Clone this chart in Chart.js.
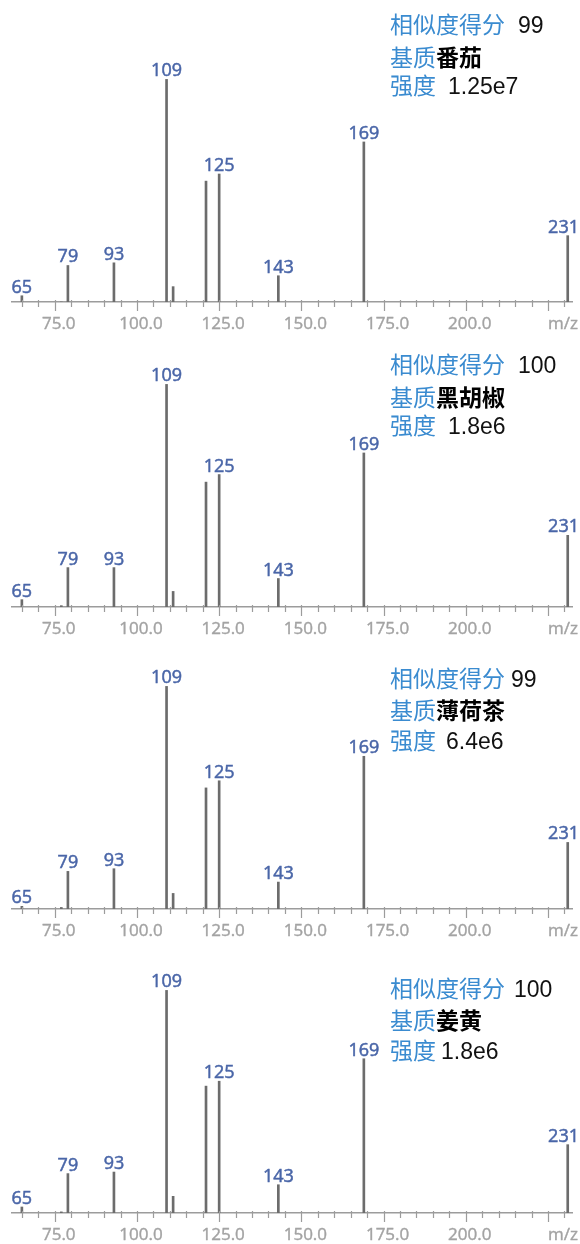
<!DOCTYPE html>
<html>
<head>
<meta charset="utf-8">
<script src="https://cdn.jsdelivr.net/npm/chart.js@4.4.1/dist/chart.umd.min.js"></script>
<style>
  html, body { margin: 0; padding: 0; background: #fff; }
  body { position: relative; width: 580px; height: 1244px; overflow: hidden; }
  canvas { position: absolute; left: 0; }
  .note {
    position: absolute; left: 390px; white-space: nowrap;
    font-family: "Noto Sans CJK SC", sans-serif; font-size: 23px; line-height: 30px;
    color: #3a8bd0;
  }
  .note .v { font-family: "Liberation Sans", Arial, sans-serif; color: #111; }
  .note .m { font-weight: bold; color: #000; }
</style>
</head>
<body>
<script>
// m/z of each fragment peak (shared by all four spectra)
const mzValues = [65, 77, 79, 93, 109, 111, 121, 125, 143, 169, 231];
// peaks that carry an m/z label
const labeledMz = [65, 79, 93, 109, 125, 143, 169, 231];
// labelled positions on the m/z axis
const xTickLabels = [75, 100, 125, 150, 175, 200];

// relative intensity (%) per matrix, same order as mzValues
const tomatoIntensity   = [2.8, 0,   16.4, 17.6, 100, 6.9, 54.3, 57.5, 11.8, 71.9, 29.8];
const pepperIntensity   = [3.3, 0.6, 17.7, 17.7, 100, 7.0, 56.1, 59.5, 12.8, 69.2, 32.2];
const mintTeaIntensity  = [1.2, 0.7, 16.9, 18.1, 100, 7.0, 54.4, 57.6, 12.1, 68.6, 29.9];
const turmericIntensity = [2.7, 0.5, 17.7, 18.4, 100, 7.5, 57.0, 59.2, 12.7, 69.3, 30.7];

// annotation text
const scoreTitle = '相似度得分';
const matrixTitle = '基质';
const intensityTitle = '强度';
const scores = ['99', '100', '99', '100'];
const matrices = ['番茄', '黑胡椒', '薄荷茶', '姜黄'];
const totalIntensities = ['1.25e7', '1.8e6', '6.4e6', '1.8e6'];
const axisTitle = 'm/z';

// ---- layout ----
const spectra = [tomatoIntensity, pepperIntensity, mintTeaIntensity, turmericIntensity];
const baselineY = [302.3, 606.7, 909.3, 1213.3];        // page y of each x axis
const CANVAS_H = 300, AXIS_H = 30, PLOT_H = CANVAS_H - AXIS_H;
const noteCenters = [[24, 56.7, 85], [364, 396.7, 425], [678, 710, 740], [988.3, 1020, 1050]];
const scoreGap = [13, 13, 6, 9];
const intensityGap = [12, 12, 10, 5];

const TICK_GREY = '#a3a3a3';
const PEAK_BLUE = '#4a66a8';

const peakLabelPlugin = {
  id: 'peakLabels',
  afterDraw(chart) {
    const { ctx, scales: { x } } = chart;
    const y0 = chart.chartArea.bottom;
    ctx.save();
    // tick marks: short every 5, long every 25
    ctx.strokeStyle = '#9c9c9c';
    ctx.lineWidth = 1.2;
    x.ticks.forEach(t => {
      const px = Math.round(x.getPixelForValue(t.value)) + 0.5;
      const major = t.value % 25 === 0;
      ctx.beginPath();
      ctx.moveTo(px, y0 - 2);
      ctx.lineTo(px, y0 + (major ? 9 : 5));
      ctx.stroke();
    });
    // axis title at the right end
    ctx.fillStyle = TICK_GREY;
    ctx.strokeStyle = TICK_GREY;
    ctx.lineWidth = 0.4;
    ctx.font = '17px "Open Sans"';
    ctx.textAlign = 'right';
    ctx.textBaseline = 'middle';
    ctx.fillText(axisTitle, 578, y0 + 22);
    ctx.strokeText(axisTitle, 578, y0 + 22);
    // m/z labels above the peaks
    const meta = chart.getDatasetMeta(0);
    ctx.fillStyle = PEAK_BLUE;
    ctx.strokeStyle = PEAK_BLUE;
    ctx.lineWidth = 0.5;
    ctx.font = '18px "Open Sans"';
    ctx.textAlign = 'center';
    ctx.textBaseline = 'alphabetic';
    meta.data.forEach((bar, k) => {
      const m = mzValues[k];
      if (!labeledMz.includes(m)) return;
      const txt = String(m);
      const w = ctx.measureText(txt).width;
      const cx = Math.min(bar.x, chart.width - 1 - w / 2);
      ctx.fillText(txt, cx, bar.y - 3);
      ctx.strokeText(txt, cx, bar.y - 3);
    });
    ctx.restore();
  }
};

function drawSpectrum(i) {
  const canvas = document.createElement('canvas');
  canvas.width = 580;
  canvas.height = CANVAS_H;
  canvas.style.top = (baselineY[i] - PLOT_H) + 'px';
  document.body.appendChild(canvas);
  const values = spectra[i];
  new Chart(canvas, {
    type: 'bar',
    data: {
      datasets: [{
        data: mzValues.map((m, k) => ({ x: m, y: values[k] })),
        backgroundColor: '#6c6c6c',
        borderWidth: 0,
        barThickness: 2
      }]
    },
    options: {
      responsive: false,
      animation: false,
      events: [],
      layout: { padding: { left: 12, right: 8, top: 0, bottom: 0 } },
      plugins: { legend: { display: false }, tooltip: { enabled: false } },
      scales: {
        x: {
          type: 'linear', min: 62, max: 232.3, offset: false,
          grid: { display: false, drawTicks: false },
          border: { display: true, color: '#9c9c9c', width: 1.5 },
          ticks: {
            stepSize: 5, includeBounds: false, autoSkip: false, maxRotation: 0,
            padding: 12, labelOffset: 4, color: TICK_GREY,
            textStrokeColor: TICK_GREY, textStrokeWidth: 0.4,
            font: { family: '"Open Sans"', size: 17 },
            callback: v => (xTickLabels.includes(v) ? v.toFixed(1) : '')
          },
          afterFit: s => { s.height = AXIS_H; }
        },
        y: { display: false, min: 0, max: 100 * PLOT_H / 222.6 }
      }
    },
    plugins: [peakLabelPlugin]
  });
}

function addNote(i) {
  const rows = [
    `${scoreTitle}<span class="v" style="margin-left:${scoreGap[i]}px">${scores[i]}</span>`,
    `${matrixTitle}<span class="m">${matrices[i]}</span>`,
    `${intensityTitle}<span class="v" style="margin-left:${intensityGap[i]}px">${totalIntensities[i]}</span>`
  ];
  rows.forEach((html, r) => {
    const d = document.createElement('div');
    d.className = 'note';
    d.style.top = (noteCenters[i][r] - 16) + 'px';
    d.innerHTML = html;
    document.body.appendChild(d);
  });
}

for (let i = 0; i < spectra.length; i++) {
  drawSpectrum(i);
  addNote(i);
}
</script>
</body>
</html>
